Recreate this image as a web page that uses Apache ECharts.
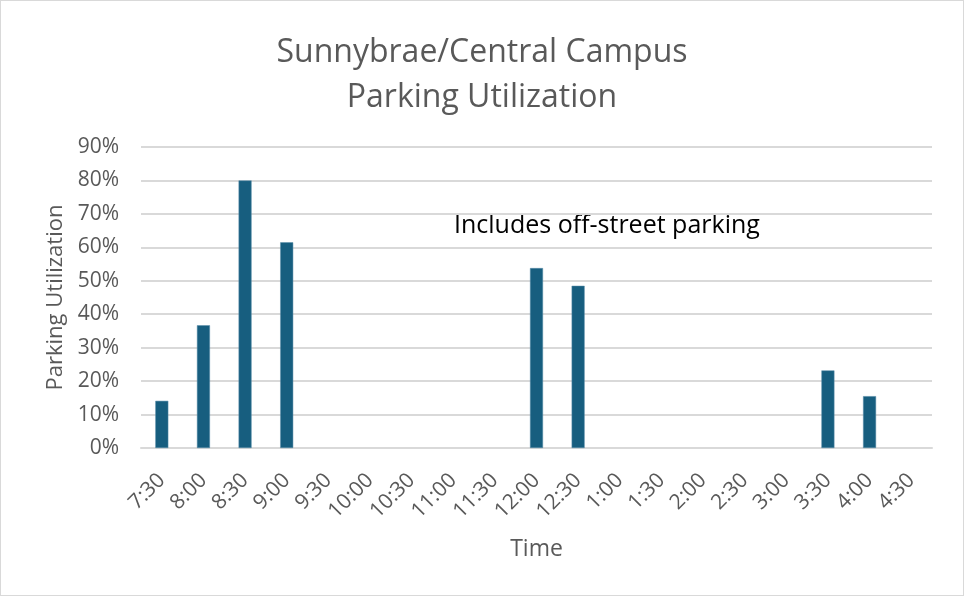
<!DOCTYPE html>
<html>
<head>
<meta charset="utf-8">
<script src="https://cdn.jsdelivr.net/npm/echarts@6/dist/echarts.min.js"></script>
<style>
  html, body { margin: 0; padding: 0; background: #fff; }
  #chart { width: 962px; height: 594px; border: 1px solid #d9d9d9; }
</style>
</head>
<body>
<div id="chart"></div>
<script>
// time slots on the x axis
var times = ['7:30', '8:00', '8:30', '9:00', '9:30', '10:00', '10:30', '11:00', '11:30',
  '12:00', '12:30', '1:00', '1:30', '2:00', '2:30', '3:00', '3:30', '4:00', '4:30'];
// utilization in percent, null where nothing was counted
var utilization = [14.1, 36.7, 80, 61.5, null, null, null, null, null,
  53.8, 48.5, null, null, null, null, null, 23.2, 15.5, null];
var titleLines = ['Sunnybrae/Central Campus', 'Parking Utilization'];
var note = 'Includes off-street parking';

var chart = echarts.init(document.getElementById('chart'));
var grey = '#595959';
var font = '"Open Sans", Lato, sans-serif';

var option = {
  animation: false,
  title: {
    text: titleLines.join('\n'),
    left: 'center',
    top: 24,
    textStyle: {
      color: grey,
      fontSize: 32,
      fontWeight: 'normal',
      fontFamily: font,
      lineHeight: 45
    }
  },
  grid: {
    left: 140,
    right: 31,
    top: 146,
    bottom: 147
  },
  xAxis: {
    type: 'category',
    data: times,
    name: 'Time',
    nameLocation: 'middle',
    nameGap: 90,
    nameTextStyle: { color: grey, fontSize: 23, fontFamily: font },
    axisLine: { lineStyle: { color: '#d9d9d9', width: 2 } },
    axisTick: { show: false },
    axisLabel: {
      color: grey,
      fontSize: 21,
      fontFamily: font,
      rotate: 45,
      interval: 0,
      margin: 29
    }
  },
  yAxis: {
    type: 'value',
    min: 0,
    max: 90,
    interval: 10,
    name: 'Parking Utilization',
    nameLocation: 'middle',
    nameGap: 74,
    nameTextStyle: { color: grey, fontSize: 22, fontFamily: font },
    axisLine: { show: false },
    axisTick: { show: false },
    axisLabel: {
      color: grey,
      fontSize: 21,
      fontFamily: font,
      margin: 22,
      formatter: '{value}%'
    },
    splitLine: { lineStyle: { color: '#d9d9d9', width: 2 } }
  },
  graphic: [{
    type: 'text',
    left: 453,
    top: 212,
    style: {
      text: note,
      fill: '#000',
      fontSize: 25,
      fontFamily: font
    }
  }],
  series: [{
    name: 'Parking Utilization',
    type: 'bar',
    data: utilization,
    barWidth: 13,
    itemStyle: {
      color: '#175e7f',
      borderColor: '#5b8fab',
      borderWidth: 0.5
    }
  }]
};

chart.setOption(option);
window.addEventListener('resize', function () {
  chart.resize();
});
</script>
</body>
</html>
